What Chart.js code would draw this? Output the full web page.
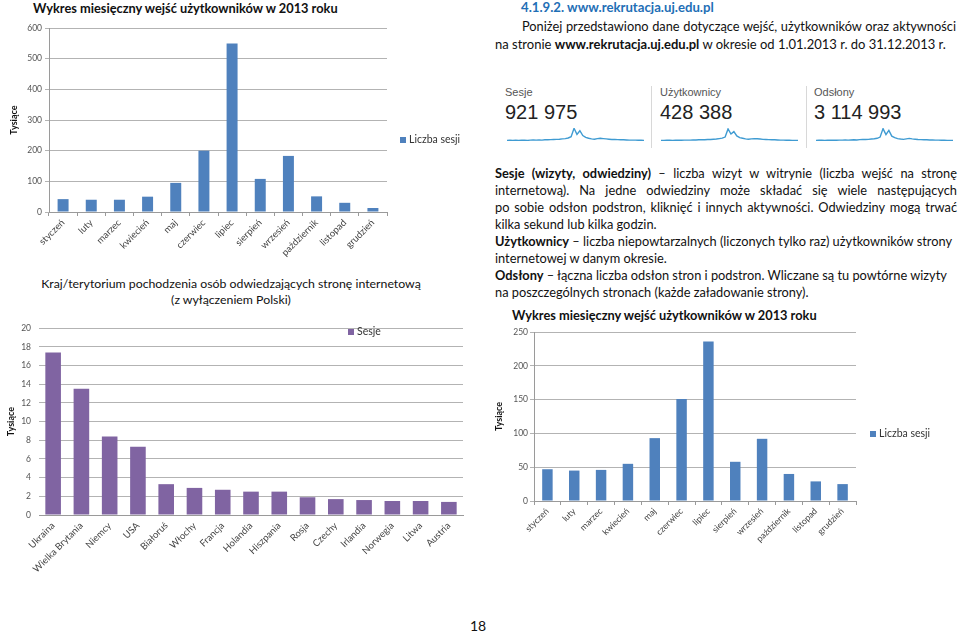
<!DOCTYPE html>
<html lang="pl">
<head>
<meta charset="utf-8">
<script src="https://cdn.jsdelivr.net/npm/chart.js@4.4.0/dist/chart.umd.min.js"></script>
<style>
  html, body { margin: 0; padding: 0; background: #fff; }
  body { width: 960px; height: 633px; position: relative; overflow: hidden; font-family: Lato, "Open Sans", sans-serif; color: #111; }
  canvas { position: absolute; }
  .t { position: absolute; font-size: 12.8px; line-height: 17px; white-space: nowrap; }
  .j { text-align: justify; text-align-last: justify; white-space: normal; }
  .ga-lab { position: absolute; font-family: "Liberation Sans", Arial, sans-serif; font-size: 11px; color: #555; }
  .ga-num { position: absolute; font-family: "Liberation Sans", Arial, sans-serif; font-size: 20px; color: #222; }
  .sep { position: absolute; width: 1px; background: #d8d8d8; }
</style>
</head>
<body>

<!-- tytuły wykresów i tekst strony -->
<div class="t" style="left:33px;top:0px;font-weight:bold;font-size:12.8px;">Wykres miesięczny wejść użytkowników w 2013 roku</div>
<div class="t" style="left:40px;top:275px;width:382px;text-align:center;font-size:12.3px;">Kraj/terytorium pochodzenia osób odwiedzających stronę internetową</div>
<div class="t" style="left:40px;top:291px;width:382px;text-align:center;font-size:12.3px;">(z wyłączeniem Polski)</div>

<div class="t" style="left:521px;top:-1px;font-weight:bold;color:#1f6fb6;font-size:13.2px;">4.1.9.2. www.rekrutacja.uj.edu.pl</div>
<div class="t j" style="left:522px;top:18px;width:434px;">Poniżej przedstawiono dane dotyczące wejść, użytkowników oraz aktywności</div>
<div class="t" style="left:495px;top:36px;font-size:13px;">na stronie <b>www.rekrutacja.uj.edu.pl</b> w okresie od 1.01.2013 r. do 31.12.2013 r.</div>

<div class="ga-lab" style="left:505px;top:86px;">Sesje</div>
<div class="ga-num" style="left:505px;top:101px;">921 975</div>
<div class="ga-lab" style="left:660px;top:86px;">Użytkownicy</div>
<div class="ga-num" style="left:660px;top:101px;">428 388</div>
<div class="ga-lab" style="left:814px;top:86px;">Odsłony</div>
<div class="ga-num" style="left:814px;top:101px;">3 114 993</div>
<div class="sep" style="left:651px;top:86px;height:62px;"></div>
<div class="sep" style="left:806px;top:86px;height:62px;"></div>

<div class="t j" style="left:495px;top:165px;width:462px;"><b>Sesje (wizyty, odwiedziny)</b> – liczba wizyt w witrynie (liczba wejść na stronę</div>
<div class="t j" style="left:495px;top:182px;width:462px;">internetową). Na jedne odwiedziny może składać się wiele następujących</div>
<div class="t j" style="left:495px;top:199px;width:462px;">po sobie odsłon podstron, kliknięć i innych aktywności. Odwiedziny mogą trwać</div>
<div class="t" style="left:495px;top:216px;">kilka sekund lub kilka godzin.</div>
<div class="t" style="left:495px;top:233px;"><b>Użytkownicy</b> – liczba niepowtarzalnych (liczonych tylko raz) użytkowników strony</div>
<div class="t" style="left:495px;top:250px;">internetowej w danym okresie.</div>
<div class="t" style="left:495px;top:267px;"><b>Odsłony</b> – łączna liczba odsłon stron i podstron. Wliczane są tu powtórne wizyty</div>
<div class="t" style="left:495px;top:284px;">na poszczególnych stronach (każde załadowanie strony).</div>
<div class="t" style="left:512px;top:307px;font-weight:bold;font-size:12.8px;">Wykres miesięczny wejść użytkowników w 2013 roku</div>

<div class="t" style="left:470px;top:617px;font-size:14px;">18</div>

<canvas id="chartTop" width="470" height="240" style="left:0;top:20px;"></canvas>
<canvas id="chartCountries" width="470" height="260" style="left:0;top:315px;"></canvas>
<canvas id="chartRight" width="460" height="224" style="left:490px;top:322px;"></canvas>
<canvas id="sparkSesje" width="137" height="13" style="left:507px;top:128px;"></canvas>
<canvas id="sparkUsers" width="137" height="13" style="left:661px;top:128px;"></canvas>
<canvas id="sparkViews" width="137" height="13" style="left:816px;top:128px;"></canvas>

<script>
// miesiące
const months = ['styczeń', 'luty', 'marzec', 'kwiecień', 'maj', 'czerwiec', 'lipiec', 'sierpień', 'wrzesień', 'październik', 'listopad', 'grudzień'];

// wykres górny (tysiące sesji)
const sessionsTop = [42, 40, 40, 50, 95, 200, 550, 108, 183, 51, 30, 13];
const ticksTop = [0, 100, 200, 300, 400, 500, 600];

// kraje (tysiące sesji)
const countries = ['Ukraina', 'Wielka Brytania', 'Niemcy', 'USA', 'Białoruś', 'Włochy', 'Francja', 'Holandia', 'Hiszpania', 'Rosja', 'Czechy', 'Irlandia', 'Norwegia', 'Litwa', 'Austria'];
const countrySessions = [17.4, 13.5, 8.4, 7.3, 3.3, 2.9, 2.7, 2.5, 2.5, 1.9, 1.7, 1.6, 1.5, 1.5, 1.4];
const ticksCountries = [0, 2, 4, 6, 8, 10, 12, 14, 16, 18, 20];

// wykres prawy (tysiące sesji)
const sessionsRight = [47, 45, 46, 55, 93, 151, 236, 58, 92, 40, 29, 25];
const ticksRight = [0, 50, 100, 150, 200, 250];

// linie Google Analytics (tygodniowo, skala względna)
const sparkSesje = [1.0, 1.05, 1.0, 1.1, 1.0, 1.05, 1.1, 1.0, 1.1, 1.15, 1.1, 1.15, 1.1, 1.2, 1.2, 1.25, 1.3, 1.35, 1.4, 1.5, 1.6, 1.8, 2.2, 5.0, 3.0, 4.2, 2.6, 2.0, 1.7, 1.5, 1.4, 1.6, 1.7, 1.6, 1.5, 1.4, 1.3, 1.3, 1.25, 1.2, 1.2, 1.15, 1.1, 1.1, 1.1, 1.05, 1.05, 1.0];
const sparkUsers = [1.0, 1.0, 1.05, 1.05, 1.0, 1.1, 1.05, 1.05, 1.1, 1.1, 1.1, 1.15, 1.15, 1.2, 1.2, 1.2, 1.3, 1.3, 1.4, 1.45, 1.6, 1.75, 2.1, 4.8, 3.1, 3.9, 2.5, 1.9, 1.7, 1.5, 1.4, 1.5, 1.6, 1.55, 1.45, 1.35, 1.3, 1.25, 1.2, 1.2, 1.15, 1.1, 1.1, 1.05, 1.05, 1.0, 1.0, 1.0];
const sparkViews = [1.0, 1.05, 1.05, 1.0, 1.1, 1.05, 1.1, 1.05, 1.1, 1.1, 1.15, 1.1, 1.15, 1.2, 1.15, 1.25, 1.3, 1.3, 1.35, 1.45, 1.55, 1.7, 2.1, 4.9, 2.9, 4.3, 2.4, 1.9, 1.6, 1.45, 1.35, 1.5, 1.65, 1.5, 1.4, 1.3, 1.25, 1.2, 1.2, 1.15, 1.15, 1.1, 1.1, 1.05, 1.05, 1.0, 1.0, 1.0];

Chart.defaults.font.family = 'Lato, "Open Sans", sans-serif';
Chart.defaults.animation = false;

// legenda rysowana w zadanym miejscu (jak w Excelu)
const boxLegend = {
    id: 'boxLegend',
    afterDraw(chart, args, o) {
        if (!o || o.x === undefined) return;
        const ctx = chart.ctx;
        const ds = chart.data.datasets[0];
        ctx.save();
        ctx.fillStyle = ds.backgroundColor;
        ctx.fillRect(o.x, o.y - o.size / 2, o.size, o.size);
        ctx.fillStyle = '#333';
        ctx.font = o.fontSize + 'px Lato, sans-serif';
        ctx.textBaseline = 'middle';
        ctx.fillText(ds.label, o.x + o.size + 3, o.y);
        ctx.restore();
    }
};

function barChart(id, cfg) {
    return new Chart(document.getElementById(id), {
        type: 'bar',
        data: {
            labels: cfg.labels,
            datasets: [{
                label: cfg.label,
                data: cfg.values,
                backgroundColor: cfg.color,
                barPercentage: cfg.barPct,
                categoryPercentage: cfg.catPct
            }]
        },
        options: {
            responsive: false,
            layout: { padding: cfg.padding },
            plugins: {
                legend: { display: false },
                tooltip: { enabled: false },
                boxLegend: cfg.legend
            },
            scales: {
                x: {
                    afterFit: s => { s.height = cfg.xHeight; },
                    grid: { display: cfg.xTicksMarks, drawOnChartArea: false, tickLength: 4, color: '#9a9a9a' },
                    border: { display: true, color: '#9a9a9a' },
                    ticks: { minRotation: 45, maxRotation: 45, padding: 1, color: '#444', font: { size: cfg.xFont } }
                },
                y: {
                    min: cfg.ticks[0],
                    max: cfg.ticks[cfg.ticks.length - 1],
                    afterBuildTicks: s => { s.ticks = cfg.ticks.map(v => ({ value: v })); },
                    afterFit: s => { s.width = cfg.yWidth; },
                    grid: { color: '#b3b3b3', drawTicks: cfg.yTickMarks, tickLength: 4 },
                    border: { display: cfg.yBorder, color: '#9a9a9a' },
                    ticks: { padding: cfg.yPad, color: '#555', font: { size: 8.5 } },
                    title: { display: true, text: 'Tysiące', color: '#111', font: { size: 9, weight: 'bold' }, padding: cfg.titlePad }
                }
            }
        },
        plugins: [boxLegend]
    });
}

barChart('chartTop', {
    labels: months, values: sessionsTop, ticks: ticksTop, label: 'Liczba sesji', color: '#4f81bd',
    barPct: 0.78, catPct: 0.5, padding: { top: 5, right: 83, left: 0, bottom: 0 },
    xHeight: 48, yWidth: 49, yPad: 3, yTickMarks: true, yBorder: true, xTicksMarks: true, xFont: 9.5,
    titlePad: { top: 9, bottom: 0 },
    legend: { x: 400, y: 120, size: 6, fontSize: 10.5 }
});

barChart('chartCountries', {
    labels: countries, values: countrySessions, ticks: ticksCountries, label: 'Sesje', color: '#8064a2',
    barPct: 0.8, catPct: 0.69, padding: { top: 9, right: 7, left: 0, bottom: 0 },
    xHeight: 60, yWidth: 39, yPad: 8, yTickMarks: false, yBorder: false, xTicksMarks: false, xFont: 9.5,
    titlePad: { top: 6, bottom: 0 },
    legend: { x: 348, y: 17, size: 6, fontSize: 10.5 }
});

barChart('chartRight', {
    labels: months, values: sessionsRight, ticks: ticksRight, label: 'Liczba sesji', color: '#4f81bd',
    barPct: 0.78, catPct: 0.5, padding: { top: 10, right: 94, left: 0, bottom: 0 },
    xHeight: 45, yWidth: 44, yPad: 2, yTickMarks: true, yBorder: true, xTicksMarks: true, xFont: 8.8,
    titlePad: { top: 4, bottom: 0 },
    legend: { x: 380, y: 112, size: 6, fontSize: 10.5 }
});

function spark(id, values) {
    return new Chart(document.getElementById(id), {
        type: 'line',
        data: {
            labels: values.map((_, i) => i),
            datasets: [{ data: values, borderColor: '#3f9bd2', borderWidth: 1.4, pointRadius: 0, fill: false, tension: 0 }]
        },
        options: {
            responsive: false,
            layout: { padding: 0 },
            plugins: { legend: { display: false }, tooltip: { enabled: false } },
            scales: {
                x: { display: false },
                y: { display: false, min: 0.8, max: 5.1 }
            }
        }
    });
}

spark('sparkSesje', sparkSesje);
spark('sparkUsers', sparkUsers);
spark('sparkViews', sparkViews);
</script>
</body>
</html>
